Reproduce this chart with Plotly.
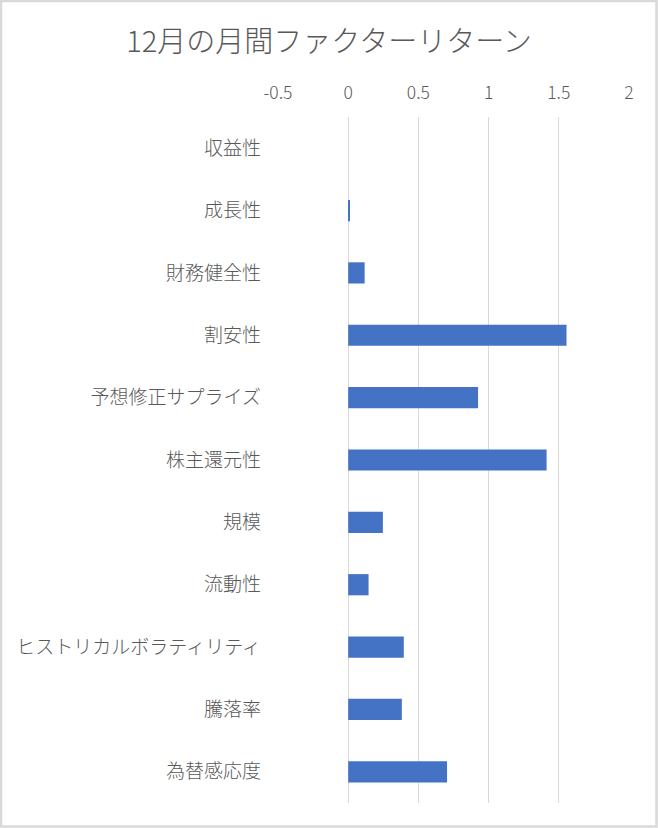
import plotly.graph_objects as go

categories = ["収益性", "成長性", "財務健全性", "割安性", "予想修正サプライズ", "株主還元性",
              "規模", "流動性", "ヒストリカルボラティリティ", "騰落率", "為替感応度"]
values = [0.0, 0.01, 0.117, 1.555, 0.925, 1.413, 0.247, 0.145, 0.396, 0.382, 0.704]
tick_vals = [-0.5, 0, 0.5, 1, 1.5, 2]
tick_text = ["-0.5", "0", "0.5", "1", "1.5", "2"]
title_text = "12月の月間ファクターリターン"

W, H = 658, 828
ML, MR, MT, MB = 278, 29, 117, 25
FONT = "Noto Sans CJK JP"
GRAY = "#595959"

fig = go.Figure(go.Bar(
    y=categories, x=values, orientation="h",
    marker=dict(color="#4472C4", line=dict(width=0)),
    hoverinfo="x+y",
))

pw = W - ML - MR
ph = H - MT - MB
def px2x(p):
    return (p - ML) / pw
def py2y(p):
    return 1 - (p - MT) / ph

fig.update_layout(
    width=W, height=H,
    margin=dict(l=ML, r=MR, t=MT, b=MB),
    paper_bgcolor="white", plot_bgcolor="white",
    bargap=0.66,
    showlegend=False,
    font=dict(family=FONT, color=GRAY),
    title=dict(text=title_text, x=0.5, xref="container", xanchor="center",
               y=1 - 42 / H, yanchor="middle", yref="container",
               font=dict(size=29, color=GRAY, family=FONT, weight=300)),
    xaxis=dict(
        side="top", range=[-0.5, 2], tickvals=tick_vals, ticktext=tick_text,
        showgrid=True, gridcolor="#D9D9D9", gridwidth=1.4,
        zeroline=False, showline=False, ticks="",
        tickfont=dict(size=17.5, color=GRAY, family=FONT, weight=300),
        ticklabelstandoff=14, fixedrange=True,
    ),
    yaxis=dict(
        autorange="reversed", showgrid=False, zeroline=False, showline=False,
        ticks="", tickfont=dict(size=19, color=GRAY, family=FONT, weight=300),
        ticklabelstandoff=16, fixedrange=True,
    ),
    shapes=[dict(type="rect", xref="paper", yref="paper",
                 x0=px2x(1), x1=px2x(W - 1.5), y0=py2y(H - 1.5), y1=py2y(1),
                 line=dict(color="#D9D9D9", width=2.5), fillcolor="rgba(0,0,0,0)",
                 layer="below")],
)

fig.write_html("out.html", config={"displayModeBar": False},
               post_script="document.body.style.margin='0';document.body.style.padding='0';")
